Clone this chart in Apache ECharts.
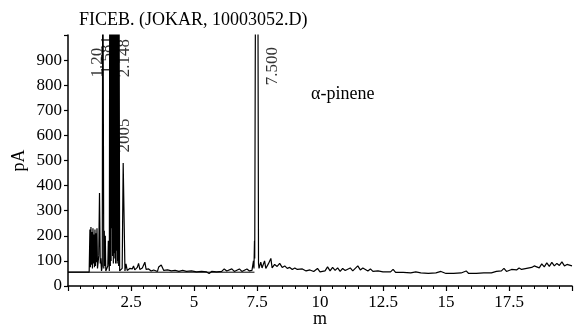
<!DOCTYPE html>
<html>
<head>
<meta charset="utf-8">
<script src="https://cdn.jsdelivr.net/npm/echarts@6/dist/echarts.min.js"></script>
<style>
  html, body { margin: 0; padding: 0; background: #fff; }
  #chart { width: 576px; height: 329px; }
</style>
</head>
<body>
<div id="chart"></div>
<script>
// chromatogram trace: [minutes, pA]
const trace = [
  [0, 55], [0.84, 55], [0.86, 60],
  [0.87, 225], [0.89, 75], [0.91, 235], [0.93, 85], [0.95, 215], [0.97, 70], [0.99, 230],
  [1.01, 90], [1.03, 205], [1.05, 75], [1.07, 225], [1.09, 80], [1.11, 210], [1.13, 95],
  [1.15, 230], [1.17, 70], [1.22, 120], [1.25, 370], [1.28, 90], [1.30, 110], [1.33, 60],
  [1.36, 80], [1.38, 1500], [1.40, 1500], [1.42, 70], [1.44, 220], [1.46, 80], [1.48, 200],
  [1.50, 60], [1.53, 55], [1.58, 80], [1.60, 180], [1.64, 60],
  [1.66, 1500], [1.68, 80], [1.69, 1500], [1.71, 100], [1.72, 1500], [1.74, 230], [1.75, 1500],
  [1.77, 120], [1.78, 1500], [1.80, 90], [1.81, 1500], [1.83, 130], [1.84, 1500], [1.86, 110],
  [1.87, 1500], [1.89, 90], [1.90, 1500], [1.92, 140], [1.93, 1500], [1.95, 90], [1.96, 1500],
  [1.98, 100], [1.99, 1500], [2.01, 80], [2.02, 1500], [2.05, 60],
  [2.15, 70], [2.19, 490], [2.22, 490], [2.26, 60],
  [2.3, 88], [2.35, 62], [2.45, 70], [2.55, 68], [2.6, 80], [2.65, 64], [2.75, 74], [2.8, 90],
  [2.85, 66], [2.95, 72], [3.05, 95], [3.1, 66], [3.2, 68], [3.3, 60], [3.4, 64], [3.55, 58],
  [3.6, 76], [3.7, 84], [3.75, 82], [3.8, 62], [3.95, 64], [4.1, 60], [4.25, 62], [4.4, 58],
  [4.55, 62], [4.7, 58], [4.9, 60], [5.1, 56], [5.3, 58], [5.5, 56], [5.6, 50], [5.7, 58],
  [5.9, 56], [6.1, 58], [6.2, 68], [6.3, 60], [6.5, 68], [6.6, 58], [6.8, 68], [6.9, 58],
  [7.1, 68], [7.2, 60], [7.3, 62],
  [7.36, 100], [7.38, 70], [7.40, 180], [7.41, 110], [7.43, 860], [7.45, 1500], [7.53, 1500],
  [7.56, 90], [7.58, 70],
  [7.65, 95], [7.7, 72], [7.8, 100], [7.85, 70], [7.95, 88], [8.05, 110], [8.1, 72], [8.2, 86],
  [8.3, 78], [8.4, 90], [8.5, 74], [8.6, 80], [8.7, 70], [8.8, 74], [8.9, 66], [9.0, 72],
  [9.1, 66], [9.3, 68], [9.45, 60], [9.6, 64], [9.75, 58], [9.9, 70], [10.0, 56], [10.2, 60],
  [10.3, 76], [10.4, 60], [10.5, 74], [10.6, 62], [10.7, 72], [10.8, 58], [10.9, 70], [11.0, 62],
  [11.2, 72], [11.3, 60], [11.5, 80], [11.6, 64], [11.7, 72], [11.9, 60], [12.0, 68], [12.1, 58],
  [12.3, 60], [12.5, 56], [12.8, 56], [12.9, 66], [13.0, 54], [13.3, 54], [13.6, 52], [13.8, 56],
  [14.0, 52], [14.3, 50], [14.6, 52], [14.8, 58], [15.0, 50], [15.3, 50], [15.6, 52], [15.8, 60],
  [15.9, 50], [16.2, 50], [16.5, 52], [16.8, 52], [17.0, 58], [17.2, 60], [17.3, 70], [17.4, 58],
  [17.6, 66], [17.8, 64], [17.9, 72], [18.0, 66], [18.2, 70], [18.4, 74], [18.5, 80], [18.7, 72],
  [18.8, 88], [18.9, 76], [19.0, 92], [19.1, 78], [19.2, 94], [19.3, 80], [19.4, 90], [19.5, 82],
  [19.6, 96], [19.7, 80], [19.8, 86], [20.0, 80]
];

// integrator baseline
const baseline = [[0, 55], [7.4, 55]];

// peak annotations: [minutes, pA, text]
const peakLabels = [
  [1.19, 890, '1.20'],
  [1.56, 920, '1.581'],
  [2.26, 908, '2.148'],
  [2.26, 600, '2005'],
  [8.13, 876, '7.500']
];

const xTicks = { min: 0, max: 20, interval: 2.5 };
const yTicks = { min: 0, max: 1000, interval: 100 };

const serif = '"Liberation Serif", "DejaVu Serif", serif';

const chart = echarts.init(document.getElementById('chart'));
chart.setOption({
  animation: false,
  backgroundColor: '#fff',
  title: [
    {
      text: 'FICEB. (JOKAR, 10003052.D)',
      left: 74, top: 6,
      textStyle: { fontFamily: serif, fontSize: 18, fontWeight: 'normal', color: '#000' }
    },
    {
      text: 'α-pinene',
      left: 306, top: 80,
      textStyle: { fontFamily: serif, fontSize: 18, fontWeight: 'normal', color: '#000' }
    }
  ],
  // fixed plot box, no auto shrink for labels
  grid: { left: 68, right: 4, top: 35, bottom: 43, outerBoundsMode: 'none', containLabel: false },
  xAxis: {
    type: 'value',
    min: xTicks.min, max: xTicks.max, interval: xTicks.interval,
    name: 'm', nameLocation: 'middle', nameGap: 24, nameMoveOverlap: false,
    nameTextStyle: { fontFamily: serif, fontSize: 18, color: '#000' },
    axisLine: { lineStyle: { color: '#000', width: 1.5 } },
    axisTick: { length: 5, lineStyle: { color: '#000', width: 1.2 } },
    minorTick: { show: true, splitNumber: 5, length: 3, lineStyle: { color: '#000', width: 1 } },
    axisLabel: {
      showMinLabel: false, showMaxLabel: false, margin: 8,
      fontFamily: serif, fontSize: 17, color: '#000'
    },
    splitLine: { show: false }
  },
  yAxis: {
    type: 'value',
    min: yTicks.min, max: yTicks.max, interval: yTicks.interval,
    name: 'pA', nameLocation: 'middle', nameGap: 40, nameRotate: 90, nameMoveOverlap: false,
    nameTextStyle: { fontFamily: serif, fontSize: 18, color: '#000' },
    axisLine: { show: true, lineStyle: { color: '#000', width: 1.5 } },
    axisTick: { show: true, length: 4, lineStyle: { color: '#000', width: 1.2 } },
    axisLabel: {
      margin: 6, fontFamily: serif, fontSize: 17, color: '#000',
      formatter: v => (v === yTicks.max ? '' : v)
    },
    splitLine: { show: false }
  },
  series: [
    {
      type: 'line',
      data: baseline,
      showSymbol: false,
      lineStyle: { color: '#000', width: 1 },
      silent: true
    },
    {
      type: 'line',
      data: trace,
      showSymbol: false,
      clip: true,
      lineStyle: { color: '#000', width: 1.2 },
      silent: true
    },
    {
      type: 'scatter',
      data: peakLabels,
      symbolSize: 0,
      label: {
        show: true,
        position: 'inside',
        rotate: 90,
        formatter: p => p.data[2],
        fontFamily: serif, fontSize: 17, color: '#000'
      },
      silent: true,
      z: 5
    }
  ]
});
</script>
</body>
</html>
